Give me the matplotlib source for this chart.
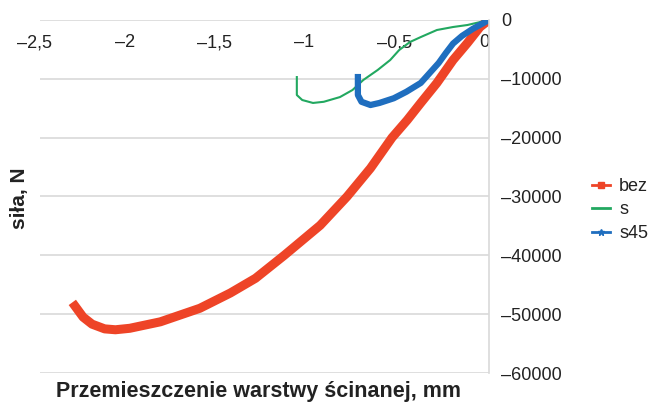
import matplotlib
matplotlib.use('Agg')
import matplotlib.pyplot as plt
from matplotlib.lines import Line2D
from matplotlib.ticker import FuncFormatter
from matplotlib.transforms import ScaledTranslation

plt.rcParams['font.family'] = ['Liberation Sans', 'DejaVu Sans']

# przemieszczenie [mm], siła [N]
bez_x = [0, -0.05, -0.12, -0.20, -0.29, -0.38, -0.455, -0.54, -0.66, -0.79, -0.94,
         -1.14, -1.30, -1.44, -1.61, -1.83, -2.00, -2.08, -2.14, -2.21, -2.26, -2.32]
bez_y = [0, -1190, -3900, -6800, -10700, -14100, -17000, -20000, -25200, -30000, -34900,
         -40000, -43900, -46400, -49000, -51300, -52400, -52650, -52500, -51700, -50500, -48000]

s_x = [0, -0.12, -0.20, -0.29, -0.38, -0.44, -0.50, -0.55, -0.62, -0.70, -0.76,
       -0.83, -0.92, -0.98, -1.04, -1.07, -1.07]
s_y = [0, -850, -1190, -1700, -2900, -3740, -5100, -6800, -8500, -10200, -11900,
       -13100, -13900, -14100, -13600, -12750, -9700]

s45_x = [0, -0.09, -0.15, -0.20, -0.24, -0.28, -0.33, -0.38, -0.46, -0.53, -0.61,
         -0.66, -0.71, -0.73, -0.73, -0.73]
s45_y = [0, -1500, -2700, -4000, -5600, -7300, -9000, -10700, -12200, -13300, -14100,
         -14450, -13900, -12750, -11400, -9700]

x_ticks = [-2.5, -2, -1.5, -1, -0.5, 0]
y_ticks = [0, -10000, -20000, -30000, -40000, -50000, -60000]

c_bez = '#EE4427'
c_s = '#22A860'
c_s45 = '#1F6EBF'
c_txt = '#222222'

fig = plt.figure(figsize=(6.55, 4.03), dpi=100)
ax = fig.add_axes([40 / 655, 1 - 373 / 403, 449 / 655, 353 / 403])

ax.plot(bez_x, bez_y, color=c_bez, lw=6.5, solid_capstyle='butt', solid_joinstyle='round')
ax.plot(s_x, s_y, color=c_s, lw=1.5)
ax.plot(s45_x, s45_y, color=c_s45, lw=4.5, solid_joinstyle='round')

ax.set_xlim(-2.5, 0)
ax.set_ylim(-60000, 0)
ax.set_xticks(x_ticks)
ax.set_yticks(y_ticks)


def fmt(v, pos):
    s = f'{abs(v):g}'.replace('.', ',')
    return ('\u2013' + s) if v < 0 else s


ax.xaxis.set_major_formatter(FuncFormatter(fmt))
ax.yaxis.set_major_formatter(FuncFormatter(fmt))

for sp in ['left', 'top', 'bottom']:
    ax.spines[sp].set_visible(False)
ax.spines['right'].set_color('#D9D9D9')
ax.spines['right'].set_linewidth(1.2)
ax.grid(axis='y', color='#D9D9D9', lw=1.2)
ax.set_axisbelow(True)

ax.tick_params(axis='x', bottom=False, top=False, labelbottom=False, labeltop=True,
               pad=-26, labelsize=13, colors=c_txt)
ax.tick_params(axis='y', left=False, right=False, labelleft=False, labelright=True,
               pad=5, labelsize=13, colors=c_txt)

# etykiety osi X lekko przesunięte w lewo
shift = ScaledTranslation(-5 / 100, 0, fig.dpi_scale_trans)
for lbl in ax.get_xticklabels():
    lbl.set_transform(lbl.get_transform() + shift)

fig.text(20 / 655, 1 - 198 / 403, 'siła, N', rotation=90, ha='center', va='center',
         fontsize=15, fontweight='bold', color=c_txt)
fig.text(259 / 655, 1 - 392 / 403, 'Przemieszczenie warstwy ścinanej, mm',
         ha='center', va='center', fontsize=15.5, fontweight='bold', color=c_txt)

handles = [
    Line2D([], [], color=c_bez, lw=2, marker='s', ms=4),
    Line2D([], [], color=c_s, lw=2),
    Line2D([], [], color=c_s45, lw=2, marker='*', ms=5),
]
fig.legend(handles, ['bez', 's', 's45'], loc='center left',
           bbox_to_anchor=(592 / 655, 1 - 210 / 403), frameon=False,
           fontsize=13, borderpad=0, borderaxespad=0, handlelength=1.0,
           handletextpad=0.5, labelspacing=0.35, labelcolor=c_txt)

fig.savefig('out.png', dpi=100)
